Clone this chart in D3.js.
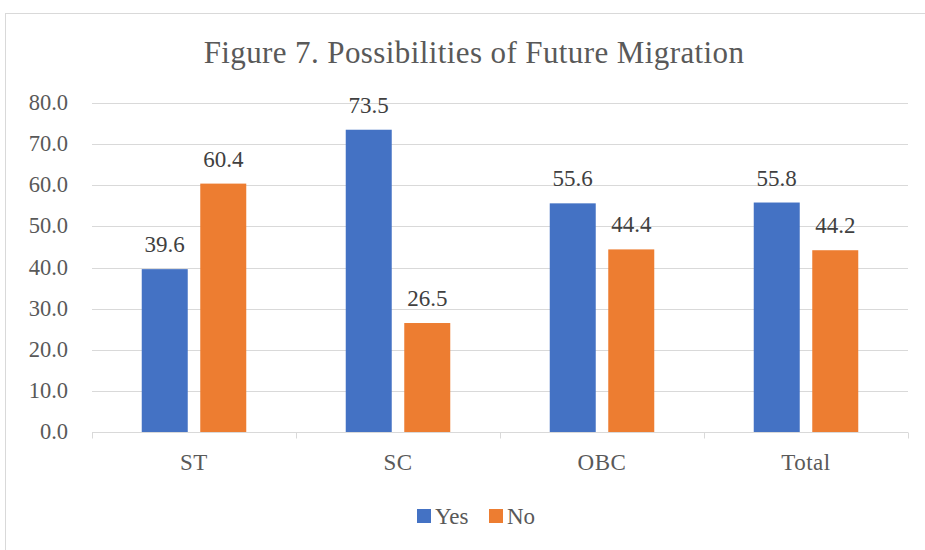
<!DOCTYPE html>
<html>

<head>
    <script src="https://d3js.org/d3.v7.min.js"></script>
    <style>
        body { margin: 0; background: white; }
    </style>
    <script>
        const width = 925
        const height = 550
        const fontFamily = "'Liberation Serif', serif"

        const categories = ["ST", "SC", "OBC", "Total"]
        const seriesNames = ["Yes", "No"]
        const yesValues = [39.6, 73.5, 55.6, 55.8]
        const noValues = [60.4, 26.5, 44.4, 44.2]
        const yTicks = [0, 10, 20, 30, 40, 50, 60, 70, 80]
        const colors = ["#4472C4", "#ED7D31"]

        const margin = { left: 92, right: 17, top: 103, bottom: 118 }

        function initialize() {
            const svg = d3.select("body").append("svg").attr("width", width).attr("height", height)

            // chart frame
            svg.append("rect")
                .attr("x", 5.5).attr("y", 13.5)
                .attr("width", width + 10).attr("height", height + 10)
                .attr("fill", "white").attr("stroke", "#d9d9d9")

            svg.append("text")
                .text("Figure 7. Possibilities of Future Migration")
                .attr("x", 474).attr("y", 63)
                .attr("text-anchor", "middle")
                .style("font-family", fontFamily)
                .style("font-size", "31px")
                .style("letter-spacing", "0.4px")
                .style("fill", "#595959")

            const x = d3.scaleBand()
                .domain(categories)
                .range([margin.left, width - margin.right])
            const xs = d3.scaleBand()
                .domain(seriesNames)
                .range([0, x.bandwidth()])
                .paddingInner(0.214)
                .paddingOuter(0.85)
            const y = d3.scaleLinear()
                .domain([0, 80])
                .range([height - margin.bottom, margin.top])

            // gridlines
            svg.append("g").selectAll("line")
                .data(yTicks.slice(1))
                .join("line")
                .attr("x1", margin.left).attr("x2", width - margin.right)
                .attr("y1", d => Math.round(y(d)) + 0.5).attr("y2", d => Math.round(y(d)) + 0.5)
                .attr("stroke", "#d9d9d9")

            // y tick labels
            svg.append("g").selectAll("text")
                .data(yTicks)
                .join("text")
                .text(d => d.toFixed(1))
                .attr("x", 68).attr("y", d => y(d) + 7)
                .attr("text-anchor", "end")
                .style("font-family", fontFamily)
                .style("font-size", "22.5px")
                .style("fill", "#595959")

            const rows = categories.map((c, i) => ({ cat: c, values: [yesValues[i], noValues[i]] }))
            const groups = svg.append("g").selectAll("g")
                .data(rows)
                .join("g")
                .attr("transform", d => `translate(${x(d.cat)},0)`)

            groups.selectAll("rect")
                .data(d => d.values.map((v, i) => ({ s: seriesNames[i], v: v, i: i })))
                .join("rect")
                .attr("x", d => xs(d.s))
                .attr("width", xs.bandwidth())
                .attr("y", d => y(d.v))
                .attr("height", d => y(0) - y(d.v))
                .attr("fill", d => colors[d.i])

            groups.selectAll("text")
                .data(d => d.values.map((v, i) => ({ s: seriesNames[i], v: v, i: i })))
                .join("text")
                .text(d => d.v.toFixed(1))
                .attr("x", d => xs(d.s) + xs.bandwidth() / 2)
                .attr("y", d => y(d.v) - 17)
                .attr("text-anchor", "middle")
                .style("font-family", fontFamily)
                .style("font-size", "23px")
                .style("fill", "#404040")

            // x axis
            const axisY = Math.round(y(0)) + 0.5
            svg.append("line")
                .attr("x1", margin.left).attr("x2", width - margin.right)
                .attr("y1", axisY).attr("y2", axisY)
                .attr("stroke", "#d9d9d9")
            const bounds = categories.map(c => x(c)).concat([x(categories[categories.length - 1]) + x.bandwidth()])
            svg.append("g").selectAll("line")
                .data(bounds)
                .join("line")
                .attr("x1", d => Math.round(d) + 0.5).attr("x2", d => Math.round(d) + 0.5)
                .attr("y1", axisY).attr("y2", axisY + 6)
                .attr("stroke", "#d9d9d9")

            svg.append("g").selectAll("text")
                .data(categories)
                .join("text")
                .text(d => d)
                .attr("x", d => x(d) + x.bandwidth() / 2)
                .attr("y", 470)
                .attr("text-anchor", "middle")
                .style("font-family", fontFamily)
                .style("font-size", "23px")
                .style("letter-spacing", "0.5px")
                .style("fill", "#595959")

            // legend
            const legendX = [417, 489]
            const legend = svg.append("g").selectAll("g")
                .data(seriesNames)
                .join("g")
                .attr("transform", (d, i) => `translate(${legendX[i]},509)`)
            legend.append("rect")
                .attr("width", 14).attr("height", 14)
                .attr("fill", (d, i) => colors[i])
            legend.append("text")
                .text(d => d)
                .attr("x", 18).attr("y", 15)
                .style("font-family", fontFamily)
                .style("font-size", "23px")
                .style("fill", "#595959")
        }
    </script>
</head>

<body onload="initialize()">
</body>

</html>
